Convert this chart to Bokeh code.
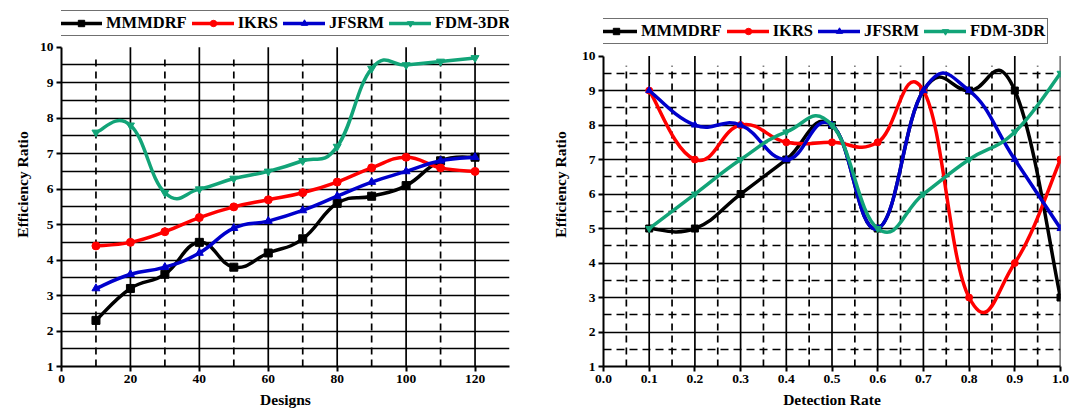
import numpy as np
from bokeh.plotting import figure
from bokeh.layouts import row
from bokeh.models import (Range1d, FixedTicker, Legend, LegendItem, Grid,
                          PrintfTickFormatter, ColumnDataSource)
from bokeh.embed import file_html
from bokeh.resources import INLINE

# ---------------- data ----------------
series_names = ["MMMDRF", "IKRS", "JFSRM", "FDM-3DR"]

designs = [10, 20, 30, 40, 50, 60, 70, 80, 90, 100, 110, 120]
left_mmmdrf = [2.3, 3.2, 3.6, 4.5, 3.8, 4.2, 4.6, 5.6, 5.8, 6.1, 6.8, 6.9]
left_ikrs = [4.4, 4.5, 4.8, 5.2, 5.5, 5.7, 5.9, 6.2, 6.6, 6.9, 6.6, 6.5]
left_jfsrm = [3.2, 3.6, 3.8, 4.2, 4.9, 5.1, 5.4, 5.8, 6.2, 6.5, 6.8, 6.9]
left_fdm = [7.6, 7.8, 5.9, 6.0, 6.3, 6.5, 6.8, 7.2, 9.4, 9.5, 9.6, 9.7]

rates = [0.1, 0.2, 0.3, 0.4, 0.5, 0.6, 0.7, 0.8, 0.9, 1.0]
right_mmmdrf = [5, 5, 6, 7, 8, 5, 9, 9, 9, 3]
right_ikrs = [9, 7, 8, 7.5, 7.5, 7.5, 9, 3, 4, 7]
right_jfsrm = [9, 8, 8, 7, 8, 5, 9, 9, 7, 5]
right_fdm = [5, 6, 7, 7.8, 8, 5, 6, 7, 7.8, 9.5]

left_xticks = [0, 20, 40, 60, 80, 100, 120]
right_xticks = [0.0, 0.1, 0.2, 0.3, 0.4, 0.5, 0.6, 0.7, 0.8, 0.9, 1.0]
yticks = [1, 2, 3, 4, 5, 6, 7, 8, 9, 10]

# ---------------- styles ----------------
COLORS = ["#000000", "#FF0000", "#0000CC", "#12A478"]
MARKERS = ["square", "circle", "triangle", "inverted_triangle"]
FONT = "Liberation Serif"
YMIN, YMAX = yticks[0], yticks[-1]


def smooth_source(xs, ys, k=0.22):
    xs = np.asarray(xs, float)
    ys = np.asarray(ys, float)
    n = len(xs)
    prv = np.r_[0, np.arange(n - 1)]
    nxt = np.r_[np.arange(1, n), n - 1]
    tx = xs[nxt] - xs[prv]
    ty = ys[nxt] - ys[prv]
    return ColumnDataSource(dict(
        x0=xs[:-1], y0=ys[:-1], x1=xs[1:], y1=ys[1:],
        cx0=xs[:-1] + k * tx[:-1], cy0=ys[:-1] + k * ty[:-1],
        cx1=xs[1:] - k * tx[1:], cy1=ys[1:] - k * ty[1:]))


def style_axes(p, xlabel, ylab_standoff):
    for ax in (p.xaxis[0], p.yaxis[0]):
        ax.axis_line_color = "black"
        ax.axis_line_width = 2
        ax.major_tick_line_color = "black"
        ax.major_tick_line_width = 2
        ax.major_tick_out = 5
        ax.major_tick_in = 0
        ax.minor_tick_line_color = None
        ax.major_label_text_font = FONT
        ax.major_label_text_font_style = "bold"
        ax.major_label_text_font_size = "13.5px"
        ax.major_label_text_color = "black"
        ax.axis_label_text_font = FONT
        ax.axis_label_text_font_style = "bold"
        ax.axis_label_text_font_size = "15.5px"
        ax.axis_label_text_color = "black"
    p.xaxis[0].axis_label = xlabel
    p.xaxis[0].major_label_standoff = 3
    p.xaxis[0].axis_label_standoff = 5
    p.yaxis[0].axis_label = "Efficiency Ratio"
    p.yaxis[0].major_label_standoff = 3
    p.yaxis[0].axis_label_standoff = ylab_standoff
    p.yaxis[0].ticker = FixedTicker(ticks=yticks)
    p.yaxis[0].bounds = (YMIN, YMAX)
    p.outline_line_color = None
    p.grid.visible = False


def vlines(p, xs, top, dash="solid"):
    p.segment(x0=xs, y0=[YMIN] * len(xs), x1=xs, y1=[top] * len(xs),
              line_color="black", line_width=1.7, line_dash=dash,
              level="underlay")


def add_series(p, xs, series, msize, lw):
    renders = []
    for ys, c, m in zip(series, COLORS, MARKERS):
        b = p.bezier("x0", "y0", "x1", "y1", "cx0", "cy0", "cx1", "cy1",
                     source=smooth_source(xs, ys), line_color=c,
                     line_width=lw, line_cap="round")
        s = p.scatter(xs, ys, marker=m, size=msize, fill_color=c,
                      line_color=c)
        renders.append((b, s))
    return renders


def add_legend(p, renders, loc):
    items = [LegendItem(label=n, renderers=list(r))
             for n, r in zip(series_names, renders)]
    lg = Legend(items=items, orientation="horizontal", location=loc,
                label_text_font=FONT, label_text_font_style="bold",
                label_text_font_size="16.5px", label_text_color="black",
                glyph_width=42, glyph_height=16, label_height=16,
                label_standoff=4, spacing=5, padding=2, margin=0,
                border_line_color="#707070", border_line_width=1.5,
                border_line_alpha=1.0,
                background_fill_color="white", background_fill_alpha=1)
    p.add_layout(lg, "center")


# ---------------- left chart ----------------
left = figure(width=540, height=410, x_range=Range1d(0, 130),
              y_range=Range1d(YMIN, 11.262), output_backend="svg",
              toolbar_location=None, min_border_left=61,
              min_border_right=31, min_border_top=2, min_border_bottom=42)
style_axes(left, "Designs", 6)
left.xaxis[0].ticker = FixedTicker(ticks=left_xticks)

lh = list(np.arange(1.5, 10, 0.5))
left.add_layout(Grid(dimension=1, ticker=FixedTicker(ticks=lh),
                     grid_line_color="black", grid_line_width=1.7))
vlines(left, left_xticks[1:], YMAX)
vlines(left, [t + 10 for t in left_xticks[:-1]], 9.72, "7 5")
lr = add_series(left, designs, [left_mmmdrf, left_ikrs, left_jfsrm, left_fdm],
                8, 3.5)
add_legend(left, lr, (-4, 330))

# ---------------- right chart ----------------
right = figure(width=531, height=410, x_range=Range1d(0, 1.0),
               y_range=Range1d(YMIN, 11.553), output_backend="svg",
               toolbar_location=None, min_border_left=63,
               min_border_right=11, min_border_top=2, min_border_bottom=41)
style_axes(right, "Detection Rate", 10)
right.xaxis[0].ticker = FixedTicker(ticks=right_xticks)
right.xaxis[0].formatter = PrintfTickFormatter(format="%.1f")

right.add_layout(Grid(dimension=1, ticker=FixedTicker(ticks=yticks[1:-1]),
                      grid_line_color="black", grid_line_width=1.7))
right.add_layout(Grid(dimension=1,
                      ticker=FixedTicker(ticks=[t + 0.5 for t in yticks[:-1]]),
                      grid_line_color="black", grid_line_width=1.7,
                      grid_line_dash="8 5"))
vlines(right, right_xticks[1:], YMAX)
vlines(right, [t + 0.05 for t in right_xticks[:-1]], 9.72, "7 5")
rr = add_series(right, rates, [right_mmmdrf, right_ikrs, right_jfsrm, right_fdm],
                7, 3.5)
add_legend(right, rr, (-11, 322))

layout = row(left, right)
open("out.html", "w").write(file_html(layout, INLINE))
